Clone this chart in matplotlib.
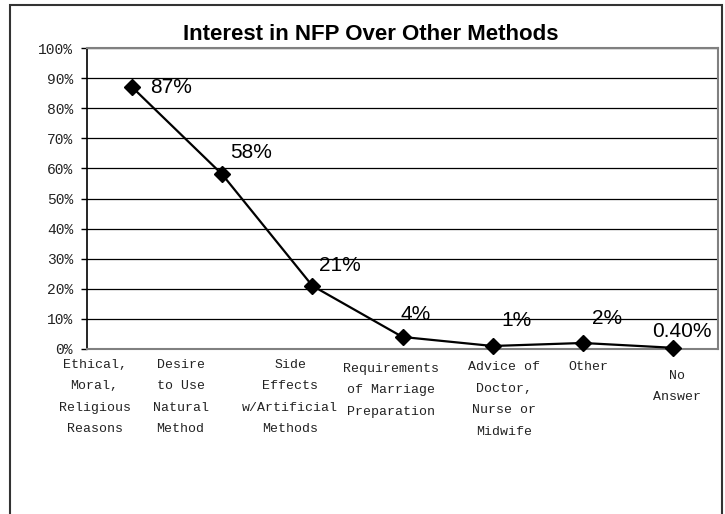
import matplotlib.pyplot as plt
import matplotlib.transforms as mtransforms
from matplotlib.patches import Rectangle

# data
categories = ['Ethical,\nMoral,\nReligious\nReasons',
              'Desire\nto Use\nNatural\nMethod',
              'Side\nEffects\nw/Artificial\nMethods',
              'Requirements\nof Marriage\nPreparation',
              'Advice of\nDoctor,\nNurse or\nMidwife',
              'Other',
              'No\nAnswer']
values = [87, 58, 21, 4, 1, 2, 0.4]
value_labels = ['87%', '58%', '21%', '4%', '1%', '2%', '0.40%']
yticks = [0, 10, 20, 30, 40, 50, 60, 70, 80, 90, 100]

# data label offsets in points (dx, dy)
offsets = [(13, 0), (6, 16), (4.5, 14.5), (-1.5, 16.5), (6.5, 18), (6.5, 17.3), (-15, 12)]
# tick label nudges in points (dx, dy)
label_shift = [(-27, 0), (-30, 0), (-16, 0), (-8, -3), (8, -2), (4, -2), (3, -8)]

fig = plt.figure(figsize=(7.25, 5.14), dpi=100)
ax = fig.add_axes([87 / 725, 1 - 349 / 514, 631 / 725, 301 / 514])

x = list(range(len(values)))
ax.plot(x, values, color='black', linewidth=1.6, marker='D', markersize=8,
        markerfacecolor='black', zorder=3, clip_on=False)

for xi, v, lab, off in zip(x, values, value_labels, offsets):
    ax.annotate(lab, (xi, v), xytext=off, textcoords='offset points',
                ha='left', va='center', fontsize=15, family='Liberation Sans')

ax.set_ylim(0, 100)
ax.set_xlim(-0.5, 6.5)
ax.set_yticks(yticks)
ax.set_yticklabels([str(t) + '%' for t in yticks], family='Liberation Mono',
                   fontsize=10.5, color='#222222')
ax.set_xticks(x)
ax.set_xticklabels(categories, family='Liberation Mono', fontsize=9.5, linespacing=2.05,
                   va='top', color='#222222')
ax.tick_params(axis='x', length=0, pad=7)
ax.tick_params(axis='y', length=4, width=1, direction='out', pad=6)

for lbl, (dx, dy) in zip(ax.get_xticklabels(), label_shift):
    lbl.set_transform(lbl.get_transform() +
                      mtransforms.ScaledTranslation(dx / 72, dy / 72, fig.dpi_scale_trans))

ax.grid(axis='y', color='black', linewidth=0.9)
ax.set_axisbelow(True)
for side in ['top', 'right', 'bottom']:
    ax.spines[side].set_color('#808080')
    ax.spines[side].set_linewidth(1.5)
ax.spines['left'].set_color('black')
ax.spines['left'].set_linewidth(1.2)

fig.text(371 / 725, 1 - 35 / 514, 'Interest in NFP Over Other Methods', ha='center',
         va='center', fontsize=16, fontweight='bold', family='Liberation Sans')

# outer chart border (runs off the bottom of the image)
fig.patches.append(Rectangle((10 / 725, -0.05), 712 / 725, 1.04,
                             transform=fig.transFigure, fill=False,
                             edgecolor='#333333', linewidth=1.5))

fig.savefig('out.png', dpi=100)
